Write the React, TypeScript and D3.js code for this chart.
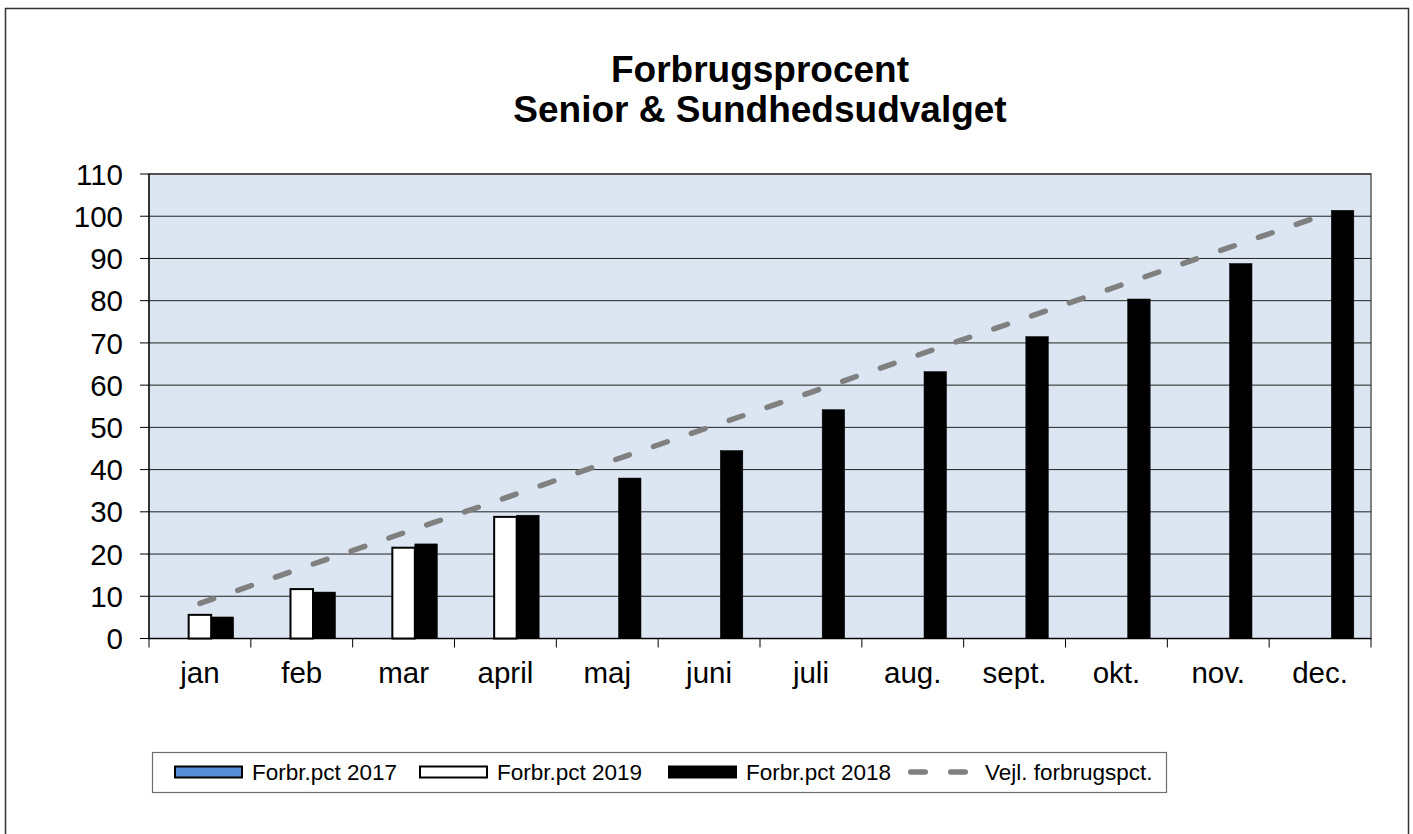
import React from 'react';
import * as d3 from 'd3';

// chart values
const months = ['jan', 'feb', 'mar', 'april', 'maj', 'juni', 'juli', 'aug.', 'sept.', 'okt.', 'nov.', 'dec.'];
const pct2017: (number | null)[] = [null, null, null, null, null, null, null, null, null, null, null, null];
const pct2019: (number | null)[] = [5.6, 11.7, 21.5, 28.8, null, null, null, null, null, null, null, null];
const pct2018: (number | null)[] = [5.1, 11.0, 22.4, 29.2, 38.0, 44.5, 54.2, 63.2, 71.5, 80.4, 88.8, 101.4];
const guide: number[] = [8.3, 16.7, 25, 33.3, 41.7, 50, 58.3, 66.7, 75, 83.3, 91.7, 100];
const yTicks = [0, 10, 20, 30, 40, 50, 60, 70, 80, 90, 100, 110];
const seriesNames = ['Forbr.pct 2017', 'Forbr.pct 2019', 'Forbr.pct 2018', 'Vejl. forbrugspct.'];

const FONT = "Arial, 'Liberation Sans', sans-serif";

const App = () => {
    const width = 1413;
    const height = 834;
    const plot = { left: 149, right: 1371, top: 174, bottom: 638.5 };

    const x = d3.scaleBand<string>().domain(months).range([plot.left, plot.right]).padding(0);
    const y = d3.scaleLinear().domain([0, 110]).range([plot.bottom, plot.top]);
    const barW = 22.5;
    const inner = d3.scaleBand<string>()
        .domain(['2017', '2019', '2018'])
        .range([-1.5 * barW, 1.5 * barW]);

    const series = [
        { key: '2017', values: pct2017, fill: '#558ed5', stroke: '#000' },
        { key: '2019', values: pct2019, fill: '#fff', stroke: '#000' },
        { key: '2018', values: pct2018, fill: '#000', stroke: '#000' }
    ];

    const line = d3.line<number>()
        .x((d, i) => (x(months[i]) as number) + x.bandwidth() / 2)
        .y(d => y(d));

    const boundaries = d3.range(months.length + 1).map(i => plot.left + i * x.bandwidth());

    const legendX = [175, 420, 669, 905];
    const legendY = 772;

    return (
        <svg width={width} height={height}
             style={{ position: 'absolute', left: 0, top: 0, background: '#fff' }}
             fontFamily={FONT}>
            <rect x={5.5} y={8.5} width={1403} height={840} fill="#fff" stroke="#333" strokeWidth={1.5}/>

            <text x={760} y={82} textAnchor="middle" fontSize={37} fontWeight="bold">Forbrugsprocent</text>
            <text x={760} y={122} textAnchor="middle" fontSize={37} fontWeight="bold">Senior &amp; Sundhedsudvalget</text>

            <rect x={plot.left} y={plot.top} width={plot.right - plot.left} height={plot.bottom - plot.top}
                  fill="#dce6f2" stroke="#808080" strokeWidth={2}/>

            {yTicks.filter(t => t > 0).map(t => (
                <line key={'g' + t} x1={plot.left} x2={plot.right} y1={y(t)} y2={y(t)}
                      stroke="#222" strokeWidth={1}/>
            ))}

            {series.map(s => (
                <g key={s.key}>
                    {s.values.map((v, i) => v == null ? null : (
                        <rect key={i}
                              x={(x(months[i]) as number) + x.bandwidth() / 2 + (inner(s.key) as number)}
                              y={y(v)}
                              width={inner.bandwidth()}
                              height={y(0) - y(v)}
                              fill={s.fill} stroke={s.stroke} strokeWidth={s.key === '2018' ? 0.5 : 2}/>
                    ))}
                </g>
            ))}

            <path d={line(guide) || ''} fill="none" stroke="#808080" strokeWidth={5.5}
                  strokeLinecap="round" strokeDasharray="14.5 25.5"/>

            {/* axes */}
            <line x1={plot.left} x2={plot.left} y1={plot.top} y2={plot.bottom} stroke="#000" strokeWidth={1.2}/>
            <line x1={plot.left} x2={plot.right} y1={plot.bottom} y2={plot.bottom} stroke="#000" strokeWidth={1.2}/>
            {yTicks.map(t => (
                <g key={'y' + t}>
                    <line x1={plot.left - 9} x2={plot.left} y1={y(t)} y2={y(t)} stroke="#000" strokeWidth={1}/>
                    <text x={123} y={y(t)} dy="0.36em" textAnchor="end" fontSize={29.5}>{t}</text>
                </g>
            ))}
            {boundaries.map((bx, i) => (
                <line key={'xt' + i} x1={bx} x2={bx} y1={plot.bottom} y2={plot.bottom + 9} stroke="#000" strokeWidth={1}/>
            ))}
            {months.map(m => (
                <text key={m} x={(x(m) as number) + x.bandwidth() / 2} y={683} textAnchor="middle" fontSize={29.5}>{m}</text>
            ))}

            {/* legend */}
            <rect x={152.5} y={752.5} width={1014} height={40} fill="#fff" stroke="#6e6e6e" strokeWidth={1.2}/>
            {series.map((s, i) => (
                <g key={'l' + s.key}>
                    <rect x={legendX[i]} y={legendY - 5.5} width={67} height={11}
                          fill={s.fill} stroke="#000" strokeWidth={2}/>
                    <text x={legendX[i] + 77} y={legendY} dy="0.36em" fontSize={22.5}>{seriesNames[i]}</text>
                </g>
            ))}
            <line x1={legendX[3] + 5.75} x2={legendX[3] + 62} y1={legendY} y2={legendY}
                  stroke="#808080" strokeWidth={5.5} strokeLinecap="round" strokeDasharray="14.5 25.5"/>
            <text x={985} y={legendY} dy="0.36em" fontSize={22.5}>{seriesNames[3]}</text>
        </svg>
    );
};

export default App;
